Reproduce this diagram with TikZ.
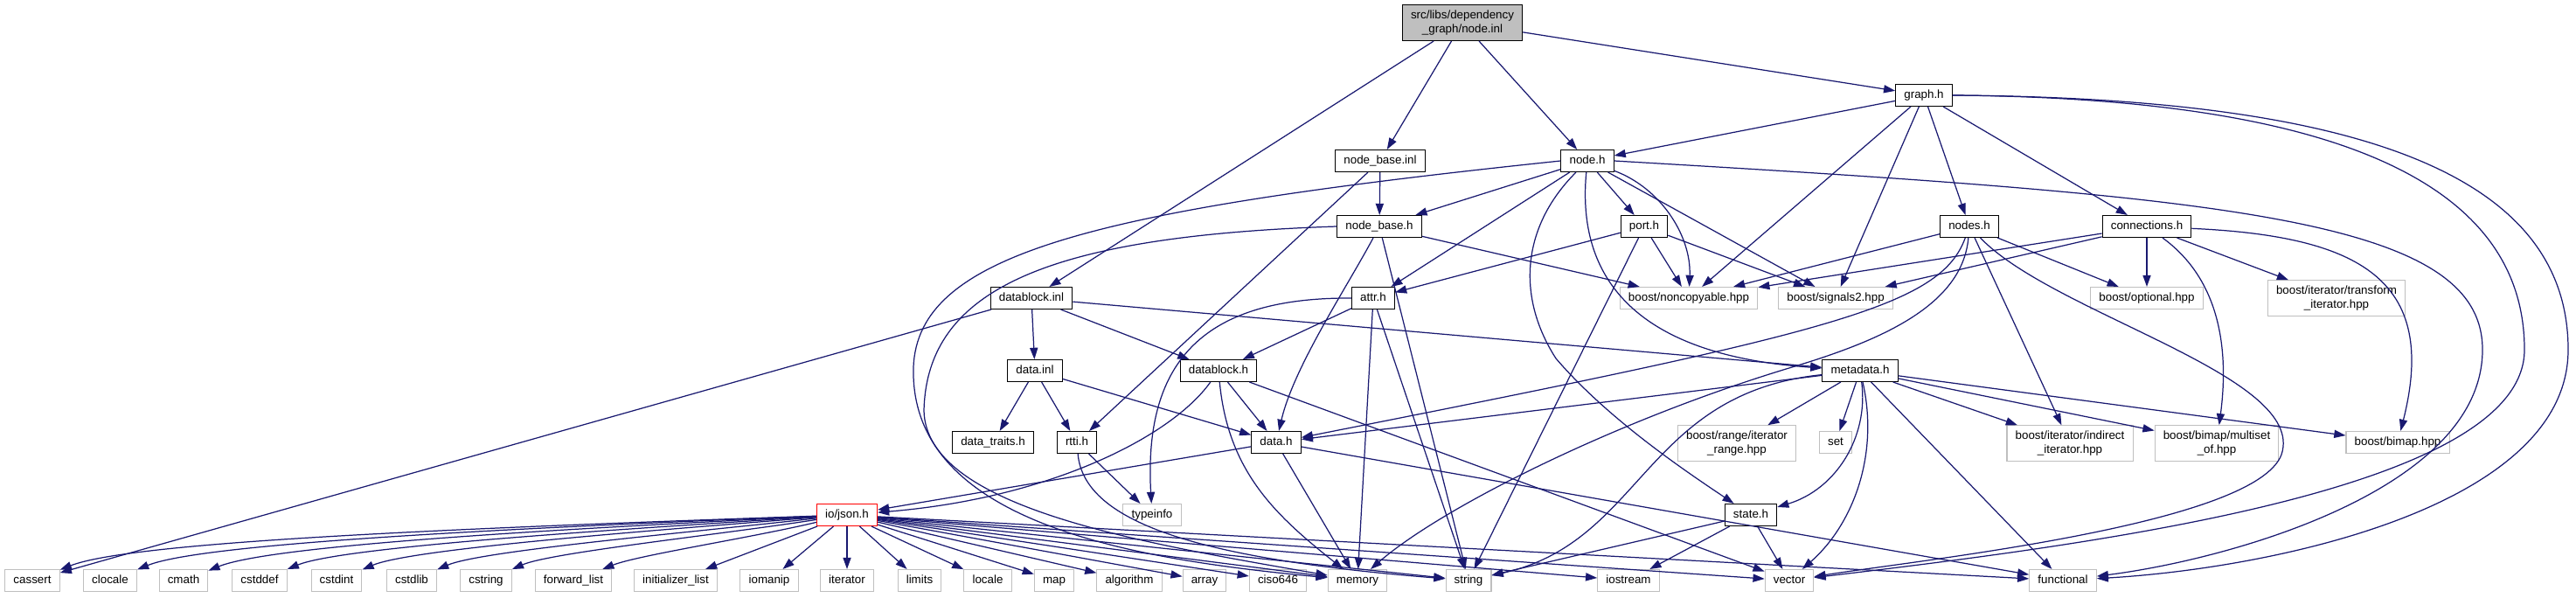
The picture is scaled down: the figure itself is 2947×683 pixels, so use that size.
\documentclass[tikz,border=0pt]{standalone}
\usepackage{fontspec}
\setmainfont{Liberation Sans}
\usepackage{tikz}
\usetikzlibrary{arrows.meta}

\definecolor{edgeblue}{HTML}{191970}
\definecolor{sysgray}{HTML}{BFBFBF}
\definecolor{rootgray}{HTML}{BFBFBF}

\begin{document}
\begin{tikzpicture}[
  x=0.02cm, y=-0.02cm,
  font=\fontsize{7.6}{8.8}\selectfont,
  fbase/.style={
    rectangle,
    draw=black,
    fill=white,
    line width=0.6pt,
    inner xsep=5.5pt,
    inner ysep=0pt
  },
  filebox/.style={
    fbase,
    minimum height=0.5cm,
    text height=5.6pt,
    text depth=1.6pt
  },
  sysbox/.style={
    filebox,
    draw=sysgray
  },
  wrapbox/.style={
    fbase,
    draw=sysgray,
    align=center,
    minimum height=0.81cm
  },
  rootbox/.style={
    fbase,
    fill=rootgray,
    align=center,
    minimum height=0.82cm
  },
  truncbox/.style={
    filebox,
    draw=red
  },
  dep/.style={
    -{Triangle[length=7.5pt, width=5.2pt]},
    draw=edgeblue,
    line width=0.7pt
  }
]
\useasboundingbox (0,0) rectangle (2947,683);

% Level 0 and 1
\node[rootbox] (root) at (1673,26) {src/libs/dependency\\\_graph/node.inl};
\node[filebox] (graph) at (2201,109) {graph.h};
\node[filebox] (nbinl) at (1579,184) {node\_base.inl};
\node[filebox] (nodeh) at (1816,184) {node.h};

% Level 2
\node[filebox] (nbh) at (1578,259) {node\_base.h};
\node[filebox] (porth) at (1881,259) {port.h};
\node[filebox] (nodesh) at (2253,259) {nodes.h};
\node[filebox] (connh) at (2456,259) {connections.h};

% Level 3
\node[filebox] (dbinl) at (1180,341) {datablock.inl};
\node[filebox] (attrh) at (1571,341) {attr.h};
\node[sysbox] (noncop) at (1932,341) {boost/noncopyable.hpp};
\node[sysbox] (sigtwo) at (2100,341) {boost/signals2.hpp};
\node[sysbox] (optional) at (2456,341) {boost/optional.hpp};
\node[wrapbox] (transform) at (2673,341) {boost/iterator/transform\\\_iterator.hpp};

% Level 4
\node[filebox] (datainl) at (1184,424) {data.inl};
\node[filebox] (dbh) at (1394,424) {datablock.h};
\node[filebox] (metah) at (2128,424) {metadata.h};

% Level 5
\node[filebox] (traits) at (1136,506) {data\_traits.h};
\node[filebox] (rtti) at (1232,506) {rtti.h};
\node[filebox] (datah) at (1460,506) {data.h};
\node[wrapbox] (irange) at (1987,507) {boost/range/iterator\\\_range.hpp};
\node[sysbox] (set) at (2100,506) {set};
\node[wrapbox] (indirect) at (2368,507) {boost/iterator/indirect\\\_iterator.hpp};
\node[wrapbox] (multiset) at (2536,507) {boost/bimap/multiset\\\_of.hpp};
\node[sysbox] (bimap) at (2743,506) {boost/bimap.hpp};

% Level 6
\node[truncbox] (json) at (969,589) {io/json.h};
\node[sysbox] (typeinfo) at (1318,589) {typeinfo};
\node[filebox] (state) at (2003,589) {state.h};

% Level 7: system headers
\node[sysbox] (cassert) at (37,664) {cassert};
\node[sysbox] (clocale) at (126,664) {clocale};
\node[sysbox] (cmath) at (210,664) {cmath};
\node[sysbox] (cstddef) at (297,664) {cstddef};
\node[sysbox] (cstdint) at (385,664) {cstdint};
\node[sysbox] (cstdlib) at (471,664) {cstdlib};
\node[sysbox] (cstring) at (556,664) {cstring};
\node[sysbox] (fwdlist) at (656,664) {forward\_list};
\node[sysbox] (initlist) at (773,664) {initializer\_list};
\node[sysbox] (iomanip) at (880,664) {iomanip};
\node[sysbox] (iterator) at (969,664) {iterator};
\node[sysbox] (limits) at (1052,664) {limits};
\node[sysbox] (locale) at (1130,664) {locale};
\node[sysbox] (map) at (1206,664) {map};
\node[sysbox] (algorithm) at (1292,664) {algorithm};
\node[sysbox] (array) at (1378,664) {array};
\node[sysbox] (ciso) at (1462,664) {ciso646};
\node[sysbox] (memory) at (1553,664) {memory};
\node[sysbox] (string) at (1680,664) {string};
\node[sysbox] (iostream) at (1863,664) {iostream};
\node[sysbox] (vector) at (2047,664) {vector};
\node[sysbox] (functional) at (2360,664) {functional};

% node.inl
\draw[dep] (root) -- (dbinl);
\draw[dep] (root) -- (nbinl);
\draw[dep] (root) -- (nodeh);
\draw[dep] (root) -- (graph);

% graph.h
\draw[dep] (graph) -- (nodeh);
\draw[dep] (graph) -- (nodesh);
\draw[dep] (graph) -- (connh);
\draw[dep] (graph) -- (noncop);
\draw[dep] (graph) -- (sigtwo);
\draw[dep] (graph.east) .. controls (2650,112) and (2888,200) .. (2888,400) .. controls (2888,560) and (2400,622) .. (vector);
\draw[dep] (graph.east) .. controls (2700,112) and (2938,200) .. (2938,400) .. controls (2938,580) and (2600,650) .. (functional);

% node_base.inl
\draw[dep] (nbinl) -- (nbh);
\draw[dep] (nbinl) -- (rtti);

% node.h
\draw[dep] (nodeh) -- (nbh);
\draw[dep] (nodeh) -- (attrh);
\draw[dep] (nodeh) -- (porth);
\draw[dep] (nodeh) .. controls (1900,215) and (1935,270) .. (noncop);
\draw[dep] (nodeh) -- (sigtwo);
\draw[dep] (nodeh) .. controls (1740,260) and (1735,340) .. (1780,410) .. controls (1840,480) and (1930,540) .. (state);
\draw[dep] (nodeh) .. controls (1805,300) and (1850,405) .. (metah);
\draw[dep] (nodeh.east) .. controls (2550,225) and (2840,250) .. (2840,400) .. controls (2840,560) and (2550,640) .. (functional);
\draw[dep] (nodeh.west) .. controls (1250,240) and (1050,290) .. (1045,420) .. controls (1040,600) and (1300,640) .. (memory);

% node_base.h
\draw[dep] (nbh) -- (noncop);
\draw[dep] (nbh) .. controls (1540,330) and (1480,420) .. (datah);
\draw[dep] (nbh) -- (string);
\draw[dep] (nbh.west) .. controls (1200,270) and (1060,330) .. (1057,470) .. controls (1060,580) and (1300,620) .. (memory);

% port.h
\draw[dep] (porth) -- (attrh);
\draw[dep] (porth) -- (noncop);
\draw[dep] (porth) -- (sigtwo);
\draw[dep] (porth) -- (string);

% nodes.h
\draw[dep] (nodesh) -- (noncop);
\draw[dep] (nodesh) -- (optional);
\draw[dep] (nodesh) -- (indirect);
\draw[dep] (nodesh) .. controls (2220,350) and (2100,380) .. (datah);
\draw[dep] (nodesh) .. controls (2245,350) and (2150,390) .. (2050,420) .. controls (1850,480) and (1650,580) .. (memory);
\draw[dep] (nodesh) .. controls (2350,360) and (2640,430) .. (2610,520) .. controls (2580,600) and (2200,640) .. (vector);

% connections.h
\draw[dep] (connh) -- (noncop);
\draw[dep] (connh) -- (sigtwo);
\draw[dep] (connh) -- (optional);
\draw[dep] (connh) -- (transform);
\draw[dep] (connh) .. controls (2540,320) and (2550,400) .. (multiset);
\draw[dep] (connh) .. controls (2700,270) and (2790,320) .. (bimap);

% datablock.inl
\draw[dep] (dbinl) -- (datainl);
\draw[dep] (dbinl) -- (dbh);
\draw[dep] (dbinl) -- (metah);
\draw[dep] (dbinl) -- (cassert);

% attr.h
\draw[dep] (attrh) -- (dbh);
\draw[dep] (attrh) -- (memory);
\draw[dep] (attrh) -- (string);
\draw[dep] (attrh.west) .. controls (1380,340) and (1308,410) .. (typeinfo);

% data.inl
\draw[dep] (datainl) -- (traits);
\draw[dep] (datainl) -- (rtti);
\draw[dep] (datainl) -- (datah);

% datablock.h
\draw[dep] (dbh) -- (datah);
\draw[dep] (dbh) .. controls (1405,540) and (1460,590) .. (memory);
\draw[dep] (dbh) -- (vector);
\draw[dep] (dbh) .. controls (1340,500) and (1200,570) .. (json);

% metadata.h
\draw[dep] (metah) -- (datah);
\draw[dep] (metah) -- (irange);
\draw[dep] (metah) -- (set);
\draw[dep] (metah) -- (indirect);
\draw[dep] (metah) -- (multiset);
\draw[dep] (metah) -- (bimap);
\draw[dep] (metah) .. controls (2138,500) and (2100,560) .. (state);
\draw[dep] (metah) .. controls (2150,520) and (2120,600) .. (vector);
\draw[dep] (metah) -- (functional);
\draw[dep] (metah) .. controls (1880,450) and (1880,620) .. (string);

% data.h
\draw[dep] (datah) -- (json);
\draw[dep] (datah) -- (memory);
\draw[dep] (datah) -- (functional);

% rtti.h
\draw[dep] (rtti) -- (typeinfo);
\draw[dep] (rtti) .. controls (1240,600) and (1380,640) .. (string);

% state.h
\draw[dep] (state) -- (string);
\draw[dep] (state) -- (iostream);
\draw[dep] (state) -- (vector);

% io/json.h fans out to the system headers
\draw[dep] (json) .. controls (500,605) and (150,620) .. (cassert);
\draw[dep] (json) .. controls (560,605) and (230,622) .. (clocale);
\draw[dep] (json) .. controls (620,606) and (310,624) .. (cmath);
\draw[dep] (json) .. controls (680,607) and (390,626) .. (cstddef);
\draw[dep] (json) .. controls (730,608) and (470,628) .. (cstdint);
\draw[dep] (json) .. controls (780,610) and (550,630) .. (cstdlib);
\draw[dep] (json) .. controls (820,612) and (630,632) .. (cstring);
\draw[dep] (json) .. controls (860,615) and (730,635) .. (fwdlist);
\draw[dep] (json) -- (initlist);
\draw[dep] (json) -- (iomanip);
\draw[dep] (json) -- (iterator);
\draw[dep] (json) -- (limits);
\draw[dep] (json) -- (locale);
\draw[dep] (json) -- (map);
\draw[dep] (json) -- (algorithm);
\draw[dep] (json) -- (array);
\draw[dep] (json) -- (ciso);
\draw[dep] (json) -- (memory);
\draw[dep] (json) -- (string);
\draw[dep] (json) -- (iostream);
\draw[dep] (json) -- (vector);
\draw[dep] (json) -- (functional);

\end{tikzpicture}
\end{document}
